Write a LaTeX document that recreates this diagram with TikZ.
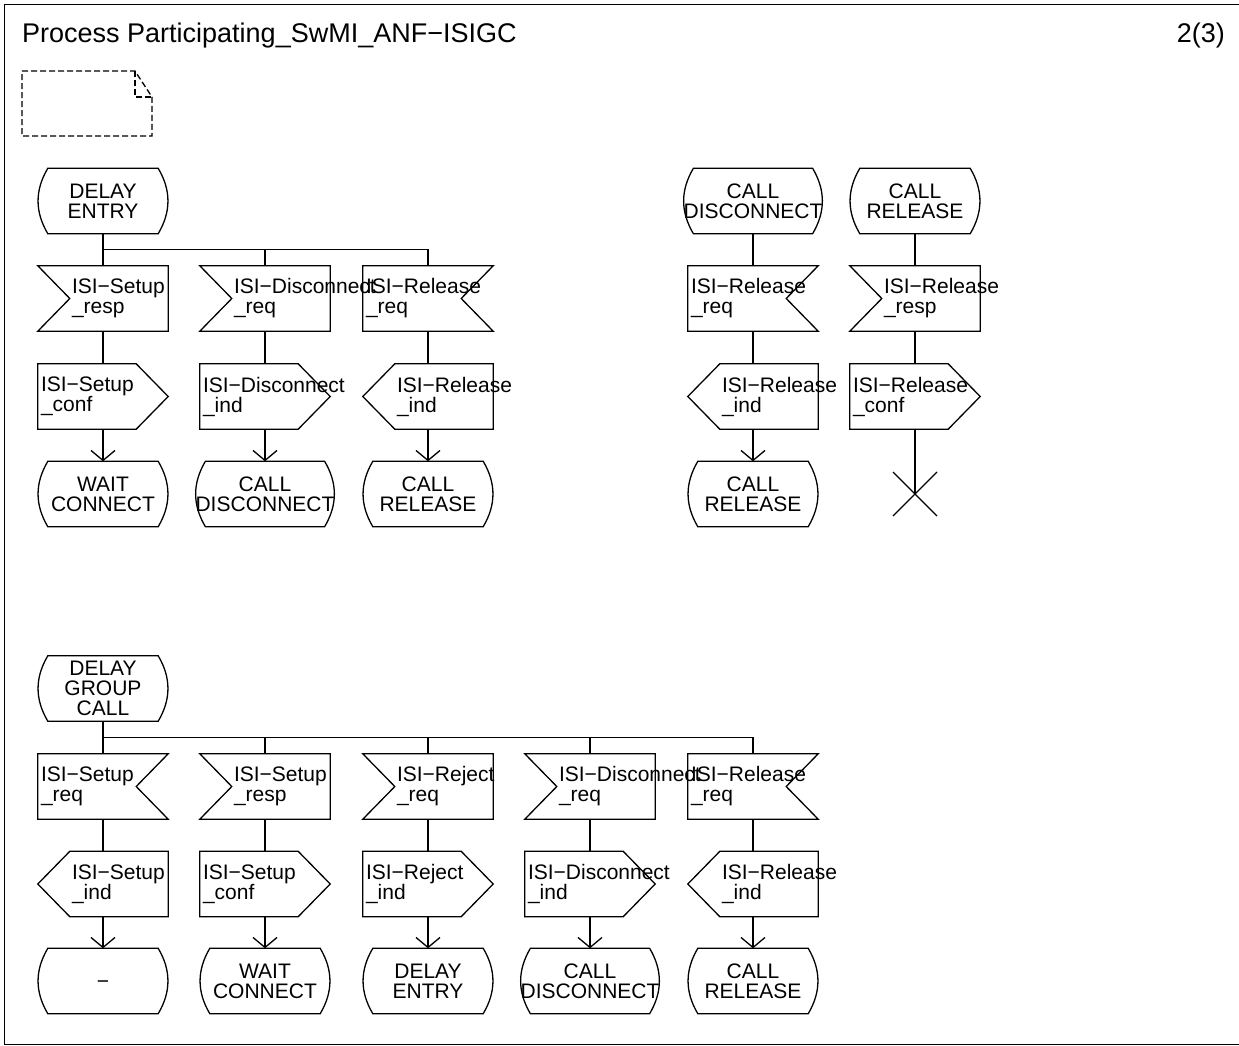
\documentclass[tikz,border=0pt]{standalone}
\usepackage{fontspec}
\setmainfont{Liberation Sans}
\usetikzlibrary{arrows.meta}
\newcommand\sdlfont{\fontsize{21}{20}\selectfont\hyphenpenalty=10000 }
\newcommand\titlefont{\fontsize{27}{31}\selectfont}
\tikzset{
  sdlline/.style={line width=1.3pt},
  flow/.style={sdlline},
  goto/.style={sdlline, -{Straight Barb[length=10pt,width=24pt]}},
  sdlbox/.style={minimum width=130pt, minimum height=65pt, inner xsep=0pt, inner ysep=0pt, font=\sdlfont, align=left},
  inl/.style={sdlbox, text width=62pt, append after command={\pgfextra{\draw[sdlline]
    (\tikzlastnode.north west) -- (\tikzlastnode.north east) -- (\tikzlastnode.south east)
    -- (\tikzlastnode.south west) -- ([xshift=32pt]\tikzlastnode.west) -- cycle;}}},
  inr/.style={sdlbox, text width=124pt, append after command={\pgfextra{\draw[sdlline]
    (\tikzlastnode.north west) -- (\tikzlastnode.north east) -- ([xshift=-32pt]\tikzlastnode.east)
    -- (\tikzlastnode.south east) -- (\tikzlastnode.south west) -- cycle;}}},
  outr/.style={sdlbox, text width=124pt, append after command={\pgfextra{\draw[sdlline]
    (\tikzlastnode.north west) -- ([xshift=-32pt]\tikzlastnode.north east) -- (\tikzlastnode.east)
    -- ([xshift=-32pt]\tikzlastnode.south east) -- (\tikzlastnode.south west) -- cycle;}}},
  outl/.style={sdlbox, text width=62pt, append after command={\pgfextra{\draw[sdlline]
    ([xshift=32pt]\tikzlastnode.north west) -- (\tikzlastnode.north east) -- (\tikzlastnode.south east)
    -- ([xshift=32pt]\tikzlastnode.south west) -- (\tikzlastnode.west) -- cycle;}}},
  state/.style={sdlbox, align=center, append after command={\pgfextra{\draw[sdlline]
    ([xshift=10pt]\tikzlastnode.north west) -- ([xshift=-10pt]\tikzlastnode.north east)
    .. controls ([xshift=3pt,yshift=-22pt]\tikzlastnode.north east) and ([xshift=3pt,yshift=22pt]\tikzlastnode.south east) .. ([xshift=-10pt]\tikzlastnode.south east)
    -- ([xshift=10pt]\tikzlastnode.south west)
    .. controls ([xshift=-3pt,yshift=22pt]\tikzlastnode.south west) and ([xshift=-3pt,yshift=-22pt]\tikzlastnode.north west) .. cycle;}}}
}
\begin{document}
\begin{tikzpicture}[x=1pt,y=-1pt]
\useasboundingbox (0,0) rectangle (1239,1046);
\draw[line width=1pt] (4,5) rectangle (1260,1044);
\node[anchor=base west, font=\titlefont, inner sep=0pt] (title) at (22,43) {Process Participating\_SwMI\_ANF−ISIGC};
\node[anchor=base east, font=\titlefont, inner sep=0pt] (page) at (1225,43) {2(3)};
\draw[sdlline, dash pattern=on 6pt off 3pt] (22,71) -- (135,71) -- (152,97) -- (152,136) -- (22,136) -- cycle;
\draw[sdlline, dash pattern=on 6pt off 3pt] (135,71) -- (135,97) -- (152,97);

\node[state] (de) at (103,201) {DELAY\\ENTRY};
\node[inl] (isr) at (103,298.5) {ISI−Setup\\\_resp};
\node[inl] (idq) at (265,298.5) {ISI−Disconnect\\\_req};
\node[inr] (irq) at (428,298.5) {ISI−Release\\\_req};
\node[outr] (osc) at (103,396.5) {ISI−Setup\\\_conf};
\node[outr] (odi) at (265,396.5) {ISI−Disconnect\\\_ind};
\node[outl] (ori) at (428,396.5) {ISI−Release\\\_ind};
\node[state] (wc) at (103,494) {WAIT\\CONNECT};
\node[state] (cd) at (265,494) {CALL\\DISCONNECT};
\node[state] (cr) at (428,494) {CALL\\RELEASE};
\draw[flow] (de.south) -- (isr.north);
\draw[flow] (de.south) ++(0,16) -| (idq.north);
\draw[flow] (de.south) ++(0,16) -| (irq.north);
\draw[flow] (isr.south) -- (osc.north);
\draw[flow] (idq.south) -- (odi.north);
\draw[flow] (irq.south) -- (ori.north);
\draw[goto] (osc.south) -- (wc.north);
\draw[goto] (odi.south) -- (cd.north);
\draw[goto] (ori.south) -- (cr.north);

\node[state] (cdx) at (753,201) {CALL\\DISCONNECT};
\node[state] (crx) at (915,201) {CALL\\RELEASE};
\node[inr] (irqx) at (753,298.5) {ISI−Release\\\_req};
\node[inl] (irp) at (915,298.5) {ISI−Release\\\_resp};
\node[outl] (orix) at (753,396.5) {ISI−Release\\\_ind};
\node[outr] (orc) at (915,396.5) {ISI−Release\\\_conf};
\node[state] (crr) at (753,494) {CALL\\RELEASE};
\coordinate (stop) at (915,494);
\draw[flow] (cdx.south) -- (irqx.north);
\draw[flow] (crx.south) -- (irp.north);
\draw[flow] (irqx.south) -- (orix.north);
\draw[flow] (irp.south) -- (orc.north);
\draw[goto] (orix.south) -- (crr.north);
\draw[flow] (orc.south) -- (stop);
\draw[flow] (stop) +(-22,-22) -- +(22,22);
\draw[flow] (stop) +(22,-22) -- +(-22,22);

\node[state] (dgc) at (103,688.5) {DELAY\\GROUP\\CALL};
\node[inr] (sq) at (103,786.5) {ISI−Setup\\\_req};
\node[inl] (sp) at (265,786.5) {ISI−Setup\\\_resp};
\node[inl] (jq) at (428,786.5) {ISI−Reject\\\_req};
\node[inl] (dq) at (590,786.5) {ISI−Disconnect\\\_req};
\node[inr] (rq) at (753,786.5) {ISI−Release\\\_req};
\node[outl] (si) at (103,884) {ISI−Setup\\\_ind};
\node[outr] (sc) at (265,884) {ISI−Setup\\\_conf};
\node[outr] (ji) at (428,884) {ISI−Reject\\\_ind};
\node[outr] (di) at (590,884) {ISI−Disconnect\\\_ind};
\node[outl] (ri) at (753,884) {ISI−Release\\\_ind};
\node[state, text height=15pt, text depth=0pt] (dash) at (103,981) {−};
\node[state] (wc2) at (265,981) {WAIT\\CONNECT};
\node[state] (de2) at (428,981) {DELAY\\ENTRY};
\node[state] (cd2) at (590,981) {CALL\\DISCONNECT};
\node[state] (cr2) at (753,981) {CALL\\RELEASE};
\draw[flow] (dgc.south) -- (sq.north);
\draw[flow] (dgc.south) ++(0,16) -| (sp.north);
\draw[flow] (dgc.south) ++(0,16) -| (jq.north);
\draw[flow] (dgc.south) ++(0,16) -| (dq.north);
\draw[flow] (dgc.south) ++(0,16) -| (rq.north);
\draw[flow] (sq.south) -- (si.north);
\draw[flow] (sp.south) -- (sc.north);
\draw[flow] (jq.south) -- (ji.north);
\draw[flow] (dq.south) -- (di.north);
\draw[flow] (rq.south) -- (ri.north);
\draw[goto] (si.south) -- (dash.north);
\draw[goto] (sc.south) -- (wc2.north);
\draw[goto] (ji.south) -- (de2.north);
\draw[goto] (di.south) -- (cd2.north);
\draw[goto] (ri.south) -- (cr2.north);
\end{tikzpicture}
\end{document}
